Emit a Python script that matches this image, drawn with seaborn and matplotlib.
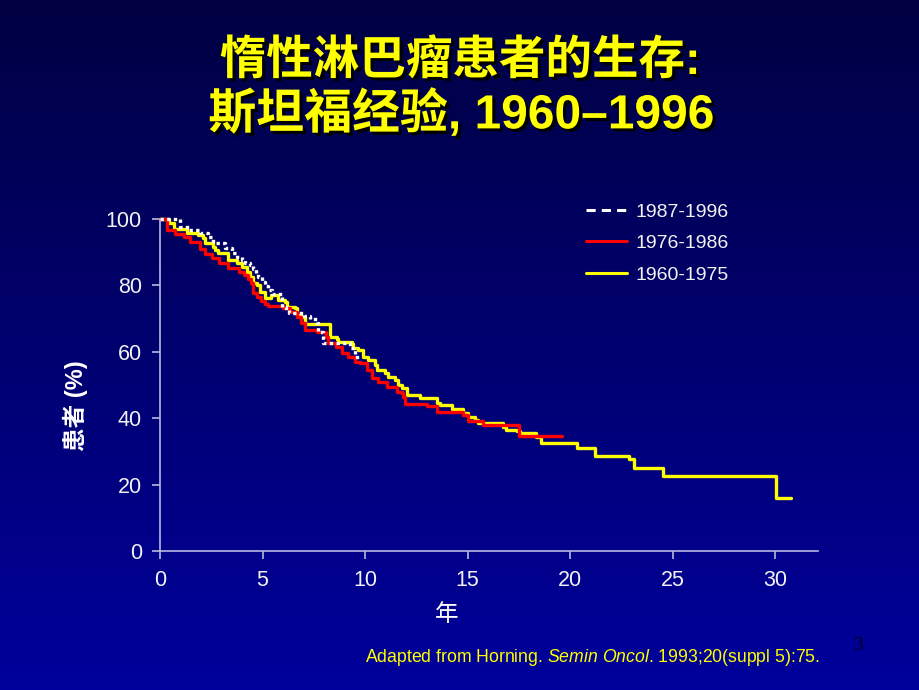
import numpy as np
import pandas as pd
import matplotlib
matplotlib.use("Agg")
import matplotlib.pyplot as plt
import matplotlib.patheffects as pe
from matplotlib.lines import Line2D
import seaborn as sns

# ---------- Data ----------
years_1960 = [0, 0.45, 0.7, 1.3, 1.87, 2.11, 2.2, 2.6, 2.68, 2.85, 3.33, 3.74, 4.0,
              4.23, 4.4, 4.55, 4.72, 4.9, 5.12, 5.4, 5.77, 6.1, 6.18, 6.59, 6.67,
              6.9, 7.05, 8.27, 8.62, 8.7, 9.35, 9.43, 9.67, 9.92, 10.16, 10.49,
              10.57, 10.98, 11.14, 11.46, 11.62, 11.79, 12.03, 12.68, 13.5, 13.66,
              14.23, 14.8, 15.04, 15.37, 15.53, 16.75, 16.9, 17.4, 17.56, 18.34,
              18.6, 20.32, 21.24, 22.9, 23.12, 24.55, 30.05, 30.8]
surv_1960 = [100, 98.9, 96.9, 95.7, 95.2, 94.2, 92.7, 91.7, 90.7, 89.9, 87.7, 86.7, 85.4,
             84.1, 82.4, 80.6, 80.1, 78.0, 76.1, 77.0, 75.6, 75.1, 73.6, 73.1, 71.1,
             70.6, 68.3, 64.5, 64.0, 63.0, 62.3, 61.1, 60.5, 58.5, 57.5, 56.0,
             54.5, 53.5, 52.5, 51.5, 50.0, 49.0, 47.0, 46.2, 44.5, 44.0,
             42.8, 41.5, 40.5, 39.5, 38.5, 37.4, 36.4, 36.0, 35.6, 34.4,
             32.4, 30.9, 28.6, 27.6, 24.9, 22.7, 16.1, 16.1]

years_1976 = [0, 0.36, 0.75, 1.16, 1.46, 1.95, 2.2, 2.55, 2.9, 3.3, 3.85, 4.1, 4.3,
              4.45, 4.55, 4.75, 4.95, 5.1, 5.28, 6.0, 6.34, 6.67, 6.9, 7.07, 7.64,
              8.1, 8.2, 8.6, 8.86, 9.18, 9.5, 9.76, 10.08, 10.33, 10.65, 11.06,
              11.54, 11.79, 11.87, 11.95, 13.0, 13.53, 14.8, 15.0, 15.77, 17.5, 19.6]
surv_1976 = [100, 96.7, 95.6, 94.5, 93.2, 91.0, 89.5, 88.2, 86.7, 85.1, 84.0, 83.0, 81.8,
             80.6, 77.6, 76.5, 75.2, 74.5, 73.8, 73.1, 72.1, 70.6, 68.8, 66.6, 66.1,
             64.6, 62.6, 61.5, 59.5, 58.5, 57.0, 56.5, 54.5, 52.0, 51.0, 49.5,
             48.0, 47.5, 46.5, 44.3, 43.8, 42.0, 41.0, 39.2, 38.0, 34.6, 34.6]

years_1987 = [0, 0.98, 1.4, 1.95, 2.36, 2.6, 3.17, 3.5, 3.74, 3.98, 4.15, 4.39, 4.55,
              4.7, 4.8, 4.96, 5.12, 5.28, 5.45, 5.97, 6.15, 6.3, 7.0, 7.3, 7.64,
              7.72, 7.97, 9.27, 9.5, 9.85]
surv_1987 = [100, 97.7, 96.7, 95.7, 94.7, 92.7, 91.2, 89.9, 88.7, 87.6, 86.7, 86.1, 84.8,
             83.6, 82.6, 81.1, 79.7, 78.6, 77.5, 73.4, 72.6, 71.6, 70.9, 69.8, 68.6,
             66.1, 62.7, 61.0, 58.5, 58.5]

cohort_names = ["1960-1975", "1976-1986", "1987-1996"]
cohort_colors = ["#ffff00", "#ff0000", "#ffffff"]
legend_order = ["1987-1996", "1976-1986", "1960-1975"]
x_ticks = [0, 5, 10, 15, 20, 25, 30]
y_ticks = [0, 20, 40, 60, 80, 100]

title_1 = "惰性淋巴瘤患者的生存:"
title_2 = "斯坦福经验, 1960–1996"
y_label = "患者 (%)"
x_label = "年"
footnote = r"Adapted from Horning. $\mathit{Semin\ Oncol}$. 1993;20(suppl 5):75."
page_no = "3"

# ---------- Long table for seaborn ----------
df = pd.concat([
    pd.DataFrame({"Years": years_1960, "Survival": surv_1960, "Cohort": cohort_names[0]}),
    pd.DataFrame({"Years": years_1976, "Survival": surv_1976, "Cohort": cohort_names[1]}),
    pd.DataFrame({"Years": years_1987, "Survival": surv_1987, "Cohort": cohort_names[2]}),
], ignore_index=True)

# ---------- Style ----------
sns.set_style("ticks")
FAM = ["Liberation Sans", "Noto Sans CJK SC", "DejaVu Sans"]
plt.rcParams["font.family"] = FAM
plt.rcParams["mathtext.fontset"] = "custom"
plt.rcParams["mathtext.rm"] = "Liberation Sans"
plt.rcParams["mathtext.it"] = "Liberation Sans:italic"

W, H = 920, 690
fig = plt.figure(figsize=(W / 100, H / 100), dpi=100)

# background gradient (dark navy top -> blue bottom)
bg = fig.add_axes([0, 0, 1, 1], zorder=0)
grad = np.linspace(0, 1, 256).reshape(-1, 1)
top = np.array([0, 0, 66]) / 255
bot = np.array([0, 0, 156]) / 255
img = top + (bot - top) * grad[..., None]
bg.imshow(img, aspect="auto", extent=[0, 1, 0, 1], origin="upper")
bg.set_axis_off()

# main plot axes
ax = fig.add_axes([160 / W, 1 - 551 / H, 658 / W, 332 / H], zorder=1)
ax.patch.set_alpha(0)

palette = dict(zip(cohort_names, cohort_colors))
dashes = {cohort_names[0]: "", cohort_names[1]: "", cohort_names[2]: (1, 1)}
sns.lineplot(data=df, x="Years", y="Survival", hue="Cohort", style="Cohort",
             hue_order=cohort_names, style_order=cohort_names,
             palette=palette, dashes=dashes, drawstyle="steps-post",
             estimator=None, sort=False, linewidth=2.4, legend=False, ax=ax)
for ln in ax.lines:
    ln.set_clip_on(False)

ax.set_xlim(0, 658 / 20.5)
ax.set_ylim(0, 100)
ax.set_xticks(x_ticks)
ax.set_yticks(y_ticks)
ax.set_xlabel("")
ax.set_ylabel("")
sns.despine(ax=ax)
axis_col = "#b8b8e0"
for s in ["left", "bottom"]:
    ax.spines[s].set_color(axis_col)
    ax.spines[s].set_linewidth(1.2)
ax.tick_params(axis="both", colors=axis_col, length=6, width=1.2, direction="out",
               labelcolor="#f2f2f2", labelsize=15.5)
ax.tick_params(axis="x", pad=8)
ax.tick_params(axis="y", pad=7)

# legend
handles = [
    Line2D([], [], color="#ffffff", lw=2.2, dashes=(3, 2)),
    Line2D([], [], color="#ff0000", lw=2.2),
    Line2D([], [], color="#ffff00", lw=2.2),
]
leg = ax.legend(handles, legend_order, loc="upper left",
                bbox_to_anchor=(586 / W, 1 - 203 / H), bbox_transform=fig.transFigure,
                frameon=False, fontsize=14, handlelength=2.1, handletextpad=0.45,
                labelspacing=0.72, borderpad=0, borderaxespad=0)
for t in leg.get_texts():
    t.set_color("#f2f2f2")

# titles with drop shadow
shadow = [pe.withSimplePatchShadow(offset=(2.2, -2.2), shadow_rgbFace="black", alpha=1.0)]
fig.text(460 / W, 1 - 62 / H, title_1, ha="center", va="center", fontsize=33.5,
         fontweight="bold", color="#ffff00", family=FAM, path_effects=shadow, zorder=5)
fig.text(461 / W, 1 - 114 / H, title_2, ha="center", va="center", fontsize=34.5,
         fontweight="bold", color="#ffff00", family=FAM, path_effects=shadow, zorder=5)

# axis labels
fig.text(75 / W, 1 - 406 / H, y_label, rotation=90, ha="center", va="center",
         fontsize=17, fontweight="bold", color="white", family=FAM, zorder=5)
fig.text(447 / W, 1 - 615 / H, x_label, ha="center", va="center",
         fontsize=17, color="white", family=FAM, zorder=5)

# footnote and page number
fig.text(365 / W, 1 - 657 / H, footnote, ha="left", va="center", fontsize=12.7,
         color="#ffff00", zorder=5)
fig.text(858 / W, 1 - 646 / H, page_no, ha="center", va="center", fontsize=14,
         color="#00001e", family="Liberation Serif", zorder=5)

fig.savefig("out.png", dpi=100)
